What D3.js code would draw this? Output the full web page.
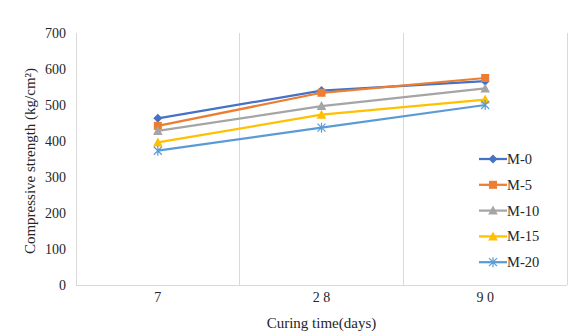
<!DOCTYPE html>
<html><head><meta charset="utf-8">
<script src="https://cdn.jsdelivr.net/npm/d3@7/dist/d3.min.js"></script>
<style>body{margin:0;background:#fff}svg{display:block}svg text{font-family:"Liberation Serif","Times New Roman",serif !important;fill:#262626}</style>
</head><body>
<script>
const categories = ["7", "28", "90"];
const tickLabels = ["7", "2 8", "9 0"];
const seriesNames = ["M-0", "M-5", "M-10", "M-15", "M-20"];
const m0 = [463, 540, 566];
const m5 = [442, 534, 575];
const m10 = [428, 497, 546];
const m15 = [396, 473, 515];
const m20 = [373, 437, 500];
const yTicks = [0, 100, 200, 300, 400, 500, 600, 700];

(function () {
const values = [m0, m5, m10, m15, m20];
const colors = ["#4472C4", "#ED7D31", "#A5A5A5", "#FFC000", "#5B9BD5"];
const markers = ["diamond", "square", "triangle", "triangle", "star"];

const W = 582, H = 334;
const svg = d3.select("body").append("svg").attr("width", W).attr("height", H);
const pL = 76, pR = 567, pT = 33, pB = 285;

const x = d3.scaleBand().domain(categories).range([pL, pR]);
const y = d3.scaleLinear().domain([0, 700]).range([pB, pT]);

const bounds = categories.map(c => x(c)).concat([pR]);
svg.append("g").selectAll("line").data(bounds).join("line")
  .attr("x1", d => d).attr("x2", d => d).attr("y1", pT).attr("y2", pB)
  .attr("stroke", "#d9d9d9").attr("stroke-width", 1).attr("shape-rendering", "crispEdges");
svg.append("line").attr("x1", pL).attr("x2", pR).attr("y1", pB).attr("y2", pB)
  .attr("stroke", "#d9d9d9").attr("shape-rendering", "crispEdges");

const ya = d3.axisLeft(y).tickValues(yTicks).tickSize(0).tickPadding(10);
const gy = svg.append("g").attr("transform", `translate(${pL},0)`).call(ya)
  .attr("font-family", "Liberation Serif").attr("font-size", 14);
gy.select(".domain").remove();
gy.selectAll("text").attr("fill", "#262626");

const xa = d3.axisBottom(x).tickSize(0).tickPadding(7).tickFormat((d, i) => tickLabels[i]);
const gx = svg.append("g").attr("transform", `translate(0,${pB})`).call(xa)
  .attr("font-family", "Liberation Serif").attr("font-size", 14);
gx.select(".domain").remove();
gx.selectAll("text").attr("fill", "#262626");

svg.append("text").attr("x", (pL + pR) / 2).attr("y", 328).attr("text-anchor", "middle")
  .style("font-size", "15px").text("Curing time(days)");
svg.append("text").attr("transform", `translate(35,${(pT + pB) / 2 + 2}) rotate(-90)`)
  .attr("text-anchor", "middle").style("font-size", "15px")
  .text("Compressive strength (kg/cm\u00B2)");

function drawMarker(g, type, cx, cy, color) {
  if (type === "diamond") {
    g.append("path").attr("d", `M${cx},${cy-4.5}L${cx+4.5},${cy}L${cx},${cy+4.5}L${cx-4.5},${cy}Z`).attr("fill", color);
  } else if (type === "square") {
    g.append("rect").attr("x", cx-4).attr("y", cy-4).attr("width", 8).attr("height", 8).attr("fill", color);
  } else if (type === "triangle") {
    g.append("path").attr("d", `M${cx},${cy-5}L${cx+4.8},${cy+4}L${cx-4.8},${cy+4}Z`).attr("fill", color);
  } else if (type === "star") {
    g.append("path").attr("d", `M${cx-4},${cy-4}L${cx+4},${cy+4}M${cx+4},${cy-4}L${cx-4},${cy+4}M${cx},${cy-5}L${cx},${cy+5}`)
      .attr("stroke", color).attr("stroke-width", 1.2).attr("fill", "none");
  }
}

const line = d3.line().x((d, i) => x(categories[i]) + x.bandwidth() / 2).y(d => y(d));
values.forEach((vals, s) => {
  const g = svg.append("g");
  g.append("path").datum(vals).attr("d", line).attr("fill", "none")
    .attr("stroke", colors[s]).attr("stroke-width", 2.25).attr("stroke-linejoin", "round");
  vals.forEach((v, i) => drawMarker(g, markers[s], x(categories[i]) + x.bandwidth() / 2, y(v), colors[s]));
});

const lg = svg.append("g");
seriesNames.forEach((n, i) => {
  const ly = 159 + i * 25.8;
  lg.append("line").attr("x1", 479).attr("x2", 507).attr("y1", ly).attr("y2", ly)
    .attr("stroke", colors[i]).attr("stroke-width", 2.25);
  drawMarker(lg, markers[i], 493, ly, colors[i]);
  lg.append("text").attr("x", 507).attr("y", ly + 5).style("font-size", "14.5px").text(n);
});
})();
</script>
</body></html>
